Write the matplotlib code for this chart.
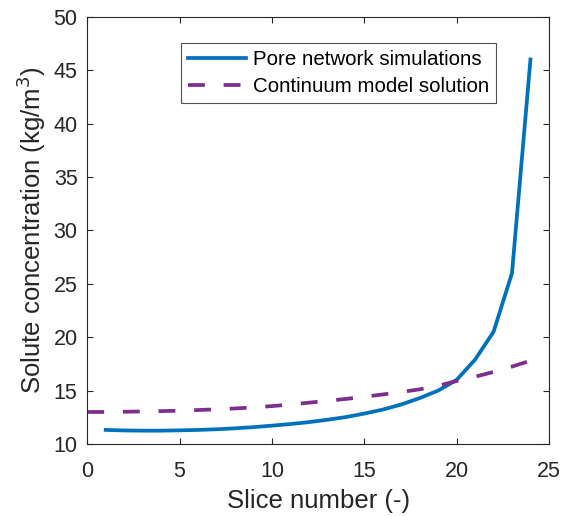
import matplotlib
matplotlib.use("Agg")
import matplotlib.pyplot as plt

plt.rcParams['font.family'] = ['Liberation Sans', 'DejaVu Sans']

slice_pn = [1, 2, 3, 4, 5, 6, 7, 8, 9, 10, 11, 12, 13, 14, 15, 16, 17, 18, 19, 20, 21, 22, 23, 24]
conc_pn = [11.32, 11.27, 11.25, 11.25, 11.28, 11.32, 11.38, 11.47, 11.58, 11.72, 11.87, 12.05,
           12.27, 12.52, 12.85, 13.22, 13.7, 14.3, 15.0, 16.0, 17.9, 20.5, 26.0, 46.0]
slice_cm = [0, 1, 2, 3, 4, 5, 6, 7, 8, 9, 10, 11, 12, 13, 14, 15, 16, 17, 18, 19, 20, 21, 22, 23, 24]
conc_cm = [13.0, 13.0, 13.02, 13.05, 13.08, 13.12, 13.18, 13.25, 13.33, 13.43, 13.55, 13.7,
           13.87, 14.04, 14.22, 14.42, 14.64, 14.87, 15.12, 15.45, 15.9, 16.3, 16.75, 17.25, 17.8]

fig = plt.figure(figsize=(5.63, 5.16), dpi=100)
ax = fig.add_axes([0.155, 0.1395, 0.82, 0.828])

ax.plot(slice_pn, conc_pn, color='#0072BD', lw=2.7, label='Pore network simulations')
ax.plot(slice_cm, conc_cm, color='#7E2F8E', lw=2.7, dashes=(4.5, 5.0), label='Continuum model solution')

ax.set_xlim(0, 25)
ax.set_ylim(10, 50)
ax.set_xticks([0, 5, 10, 15, 20, 25])
ax.set_yticks(range(10, 51, 5))
ax.tick_params(direction='in', length=4, width=0.8, top=True, right=True,
               labelsize=15.5, colors='#262626')
ax.tick_params(axis='x', pad=12)
ax.tick_params(axis='y', pad=7)
for s in ax.spines.values():
    s.set_color('#262626')
    s.set_linewidth(0.8)

ax.set_xlabel('Slice number (-)', fontsize=18.5, color='#262626', labelpad=5)
ax.set_ylabel('Solute concentration (kg/m$^3$)', fontsize=18.5, color='#262626', labelpad=4)

leg = ax.legend(loc='upper left', bbox_to_anchor=(0.203, 0.939), fontsize=14.8,
                frameon=True, fancybox=False, edgecolor='#262626', handlelength=2.8,
                handletextpad=0.35, borderpad=0.35, labelspacing=0.4, borderaxespad=0)
leg.get_frame().set_linewidth(0.8)

fig.savefig('out.png', dpi=100)
